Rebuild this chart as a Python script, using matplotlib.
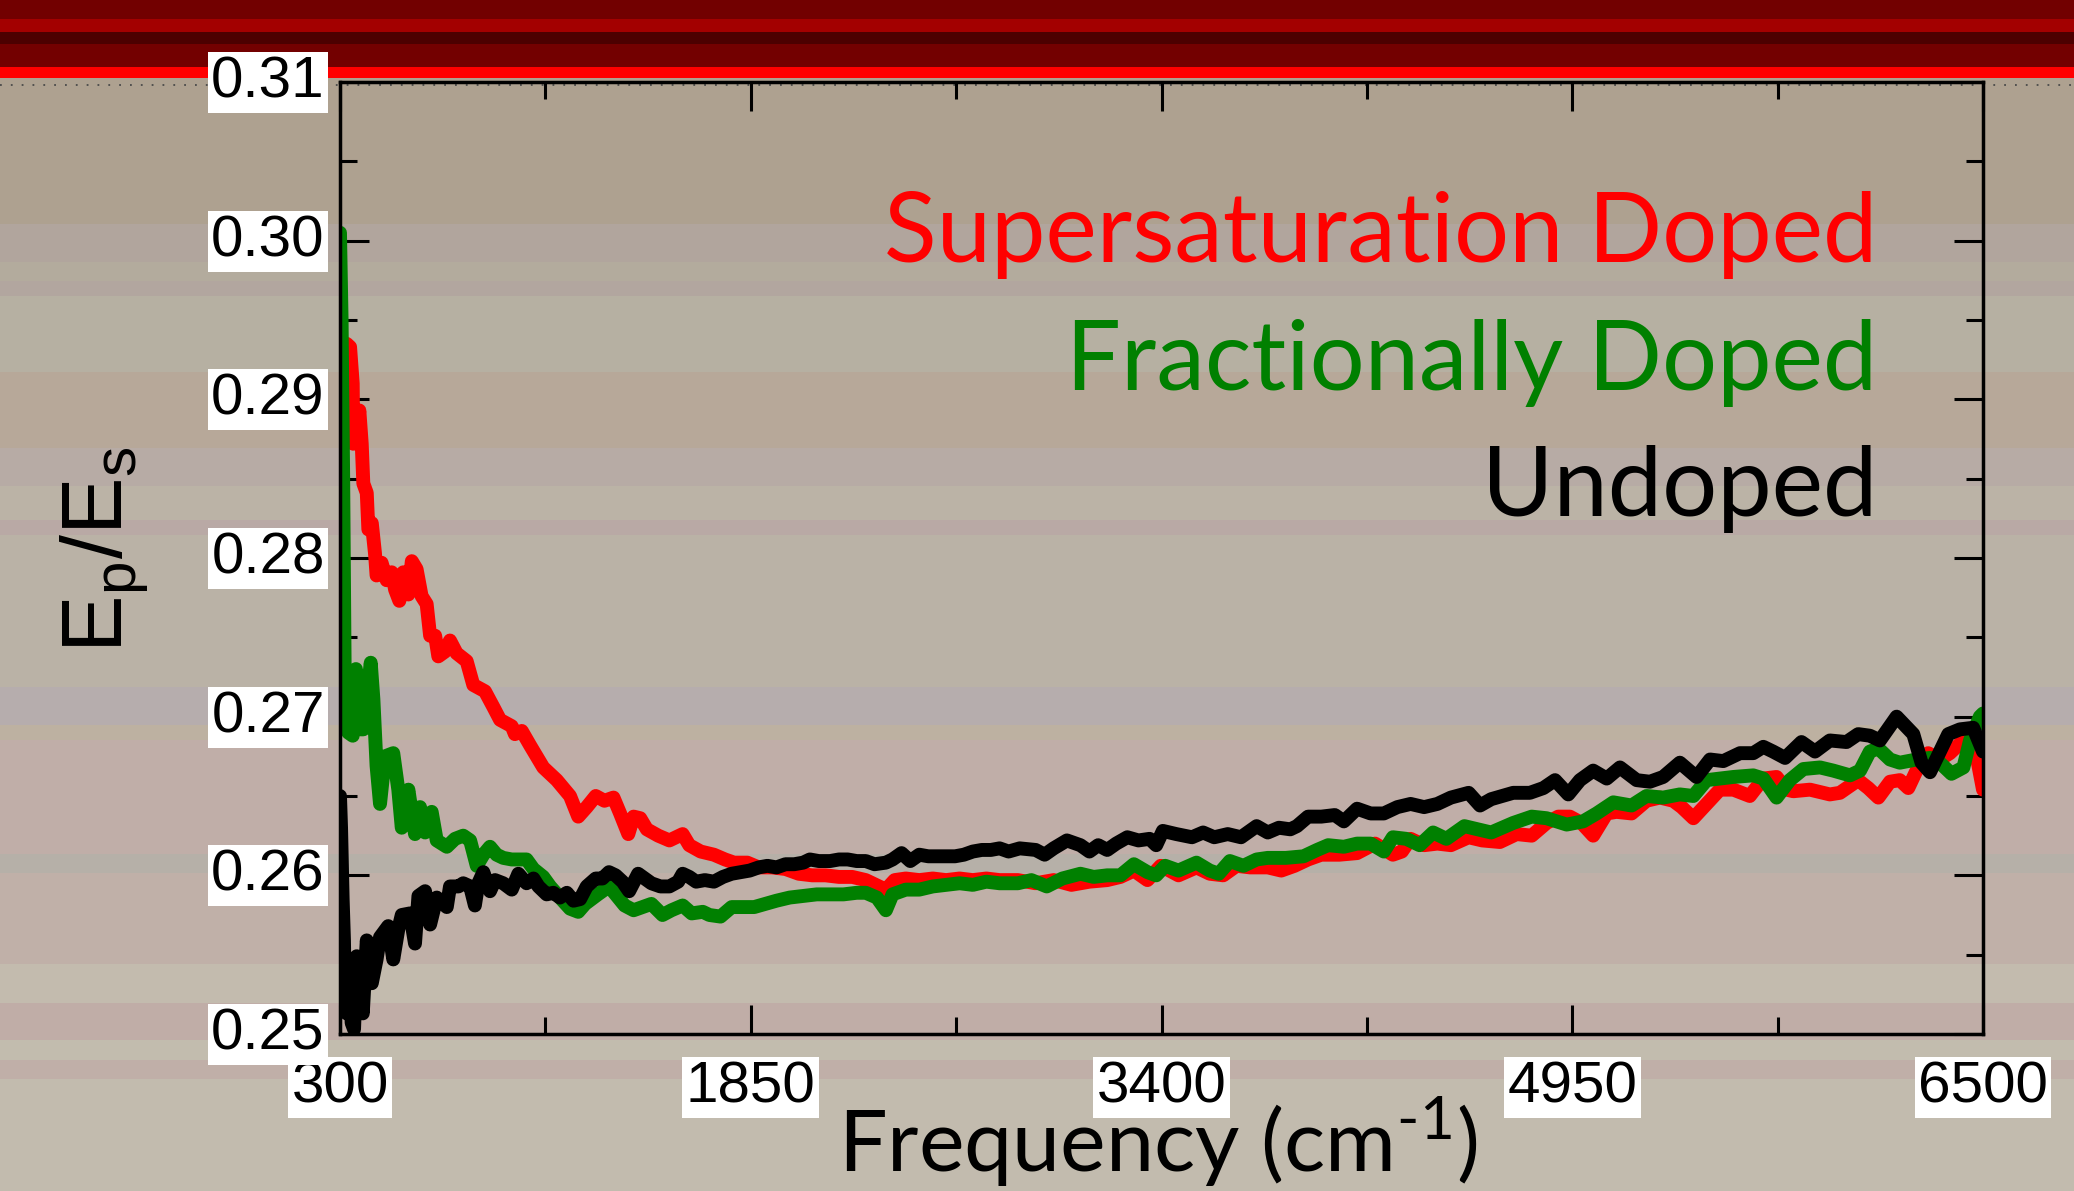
import numpy as np
import matplotlib
matplotlib.use("Agg")
import matplotlib.pyplot as plt
from matplotlib.patches import Rectangle
from matplotlib.lines import Line2D
from matplotlib.transforms import ScaledTranslation

# E_p/E_s vs frequency (cm^-1)
super_doped = [
    (325, 0.2935), (338, 0.2933), (348, 0.2910), (350, 0.2872), (363, 0.2879), (373, 0.2893),
    (382, 0.2872), (388, 0.2847), (401, 0.2841), (407, 0.2818), (420, 0.2822), (432, 0.2803),
    (438, 0.2789), (457, 0.2797), (476, 0.2786), (495, 0.2791), (508, 0.2780), (524, 0.2773),
    (539, 0.2791), (558, 0.2777), (571, 0.2798), (589, 0.2793), (608, 0.2776), (627, 0.2771),
    (640, 0.2751), (659, 0.2751), (671, 0.2738), (696, 0.2741), (715, 0.2748), (740, 0.2740),
    (778, 0.2735), (803, 0.2720), (847, 0.2716), (879, 0.2706), (904, 0.2698), (948, 0.2694),
    (960, 0.2689), (986, 0.2691), (1017, 0.2682), (1067, 0.2668), (1118, 0.2660), (1168, 0.2650),
    (1199, 0.2637), (1231, 0.2643), (1265, 0.2650), (1298, 0.2647), (1332, 0.2649), (1357, 0.2639),
    (1388, 0.2626), (1408, 0.2637), (1433, 0.2636), (1458, 0.2629), (1501, 0.2625), (1543, 0.2622),
    (1593, 0.2626), (1618, 0.2619), (1661, 0.2615), (1711, 0.2613), (1753, 0.2610), (1787, 0.2608),
    (1837, 0.2608), (1880, 0.2605), (1930, 0.2605), (1981, 0.2604), (2031, 0.2601), (2082, 0.2600),
    (2132, 0.2600), (2183, 0.2599), (2233, 0.2599), (2284, 0.2597), (2334, 0.2593), (2360, 0.2591),
    (2393, 0.2597), (2435, 0.2598), (2486, 0.2597), (2537, 0.2598), (2587, 0.2597), (2638, 0.2598),
    (2688, 0.2597), (2739, 0.2598), (2789, 0.2597), (2858, 0.2597), (2925, 0.2595), (2993, 0.2597),
    (3060, 0.2594), (3128, 0.2596), (3195, 0.2597), (3245, 0.2599), (3296, 0.2603), (3347, 0.2597),
    (3397, 0.2606), (3464, 0.2600), (3532, 0.2605), (3582, 0.2601), (3633, 0.2600), (3683, 0.2606),
    (3734, 0.2605), (3801, 0.2605), (3852, 0.2603), (3902, 0.2606), (3953, 0.2610), (4003, 0.2613),
    (4071, 0.2613), (4138, 0.2614), (4206, 0.2620), (4273, 0.2613), (4307, 0.2615), (4340, 0.2623),
    (4391, 0.2619), (4441, 0.2620), (4492, 0.2619), (4559, 0.2624), (4610, 0.2622), (4677, 0.2621),
    (4740, 0.2626), (4797, 0.2625), (4853, 0.2633), (4897, 0.2637), (4941, 0.2637), (4985, 0.2633),
    (5029, 0.2625), (5080, 0.2639), (5117, 0.2640), (5174, 0.2639), (5230, 0.2647), (5281, 0.2649),
    (5331, 0.2647), (5363, 0.2643), (5407, 0.2636), (5457, 0.2645), (5507, 0.2654), (5558, 0.2654),
    (5620, 0.2650), (5671, 0.2661), (5721, 0.2662), (5759, 0.2654), (5784, 0.2653), (5847, 0.2654),
    (5922, 0.2651), (5960, 0.2652), (6029, 0.2660), (6067, 0.2655), (6105, 0.2649), (6149, 0.2659),
    (6186, 0.2660), (6218, 0.2655), (6249, 0.2666), (6293, 0.2677), (6337, 0.2673), (6375, 0.2677),
    (6413, 0.2683), (6451, 0.2687), (6476, 0.2675), (6500, 0.2654),
]

frac_doped = [
    (300, 0.3005), (306, 0.2950), (312, 0.2850), (316, 0.2760), (319, 0.2700), (331, 0.2690),
    (348, 0.2688), (360, 0.2730), (369, 0.2705), (378, 0.2692), (388, 0.2692), (401, 0.2711),
    (416, 0.2734), (426, 0.2711), (438, 0.2669), (451, 0.2645), (470, 0.2675), (501, 0.2677),
    (520, 0.2654), (533, 0.2630), (558, 0.2654), (583, 0.2626), (602, 0.2643), (621, 0.2627),
    (646, 0.2640), (665, 0.2622), (703, 0.2618), (734, 0.2623), (765, 0.2625), (791, 0.2622),
    (816, 0.2606), (841, 0.2613), (866, 0.2618), (891, 0.2613), (916, 0.2611), (948, 0.2610),
    (979, 0.2610), (1004, 0.2610), (1030, 0.2604), (1067, 0.2599), (1093, 0.2593), (1130, 0.2586),
    (1168, 0.2579), (1199, 0.2577), (1225, 0.2582), (1273, 0.2588), (1315, 0.2593), (1340, 0.2588),
    (1374, 0.2581), (1408, 0.2578), (1442, 0.2580), (1475, 0.2582), (1517, 0.2575), (1551, 0.2578),
    (1593, 0.2581), (1627, 0.2576), (1669, 0.2577), (1694, 0.2575), (1736, 0.2574), (1778, 0.2580),
    (1821, 0.2580), (1863, 0.2580), (1905, 0.2582), (1947, 0.2584), (1997, 0.2586), (2048, 0.2587),
    (2099, 0.2588), (2149, 0.2588), (2200, 0.2588), (2250, 0.2589), (2284, 0.2589), (2326, 0.2586),
    (2360, 0.2578), (2385, 0.2588), (2435, 0.2591), (2486, 0.2591), (2537, 0.2593), (2587, 0.2594),
    (2638, 0.2595), (2688, 0.2594), (2739, 0.2596), (2789, 0.2595), (2858, 0.2595), (2909, 0.2597),
    (2967, 0.2593), (3026, 0.2598), (3094, 0.2601), (3144, 0.2599), (3195, 0.2600), (3245, 0.2600),
    (3296, 0.2607), (3347, 0.2602), (3380, 0.2600), (3414, 0.2606), (3464, 0.2603), (3532, 0.2608),
    (3582, 0.2603), (3616, 0.2601), (3658, 0.2609), (3709, 0.2606), (3759, 0.2610), (3801, 0.2611),
    (3869, 0.2611), (3936, 0.2612), (3987, 0.2616), (4029, 0.2619), (4088, 0.2618), (4138, 0.2620),
    (4189, 0.2620), (4239, 0.2615), (4273, 0.2624), (4324, 0.2623), (4374, 0.2619), (4425, 0.2627),
    (4475, 0.2623), (4543, 0.2631), (4593, 0.2629), (4644, 0.2627), (4727, 0.2633), (4797, 0.2637),
    (4853, 0.2636), (4929, 0.2632), (4991, 0.2634), (5042, 0.2639), (5105, 0.2646), (5174, 0.2644),
    (5230, 0.2650), (5293, 0.2649), (5356, 0.2651), (5407, 0.2650), (5457, 0.2660), (5507, 0.2661),
    (5558, 0.2662), (5633, 0.2663), (5671, 0.2661), (5721, 0.2649), (5771, 0.2660), (5822, 0.2667),
    (5885, 0.2668), (5935, 0.2666), (5998, 0.2663), (6036, 0.2666), (6073, 0.2678), (6105, 0.2680),
    (6149, 0.2673), (6186, 0.2671), (6249, 0.2673), (6300, 0.2674), (6337, 0.2671), (6381, 0.2664),
    (6426, 0.2668), (6451, 0.2685), (6488, 0.2700), (6500, 0.2702),
]

undoped = [
    (300, 0.2650), (304, 0.2630), (310, 0.2585), (315, 0.2559), (319, 0.2517), (325, 0.2513),
    (335, 0.2547), (344, 0.2507), (353, 0.2503), (363, 0.2549), (376, 0.2547), (386, 0.2513),
    (401, 0.2559), (420, 0.2532), (438, 0.2547), (451, 0.2561), (482, 0.2568), (501, 0.2547),
    (520, 0.2566), (533, 0.2575), (564, 0.2576), (583, 0.2557), (596, 0.2587), (621, 0.2590),
    (640, 0.2569), (665, 0.2586), (703, 0.2580), (715, 0.2593), (747, 0.2593), (765, 0.2595),
    (791, 0.2593), (809, 0.2581), (822, 0.2595), (841, 0.2602), (866, 0.2590), (885, 0.2597),
    (916, 0.2595), (948, 0.2591), (973, 0.2601), (1004, 0.2595), (1030, 0.2598), (1049, 0.2593),
    (1080, 0.2588), (1105, 0.2589), (1130, 0.2586), (1156, 0.2589), (1181, 0.2584), (1206, 0.2585),
    (1231, 0.2593), (1265, 0.2598), (1290, 0.2598), (1315, 0.2602), (1340, 0.2600), (1366, 0.2596),
    (1391, 0.2590), (1425, 0.2601), (1450, 0.2598), (1475, 0.2595), (1509, 0.2593), (1543, 0.2593),
    (1576, 0.2596), (1593, 0.2601), (1618, 0.2599), (1644, 0.2596), (1677, 0.2597), (1711, 0.2596),
    (1745, 0.2599), (1778, 0.2601), (1812, 0.2602), (1846, 0.2603), (1880, 0.2605), (1913, 0.2606),
    (1947, 0.2605), (1981, 0.2607), (2014, 0.2607), (2048, 0.2608), (2073, 0.2610), (2107, 0.2609),
    (2149, 0.2609), (2183, 0.2610), (2216, 0.2610), (2250, 0.2609), (2284, 0.2609), (2317, 0.2607),
    (2360, 0.2608), (2385, 0.2610), (2419, 0.2614), (2452, 0.2609), (2486, 0.2613), (2520, 0.2612),
    (2570, 0.2612), (2621, 0.2612), (2654, 0.2613), (2688, 0.2615), (2722, 0.2616), (2756, 0.2616),
    (2789, 0.2617), (2823, 0.2615), (2865, 0.2617), (2925, 0.2616), (2959, 0.2613), (2993, 0.2617),
    (3043, 0.2622), (3094, 0.2619), (3128, 0.2615), (3161, 0.2619), (3195, 0.2616), (3229, 0.2620),
    (3271, 0.2624), (3313, 0.2622), (3355, 0.2623), (3380, 0.2619), (3405, 0.2628), (3456, 0.2626),
    (3515, 0.2624), (3557, 0.2627), (3599, 0.2624), (3650, 0.2626), (3700, 0.2624), (3759, 0.2631),
    (3801, 0.2627), (3843, 0.2630), (3886, 0.2629), (3911, 0.2631), (3953, 0.2637), (4003, 0.2637),
    (4054, 0.2638), (4088, 0.2634), (4138, 0.2642), (4189, 0.2639), (4239, 0.2639), (4290, 0.2643),
    (4340, 0.2645), (4391, 0.2643), (4441, 0.2645), (4492, 0.2649), (4559, 0.2652), (4602, 0.2644),
    (4644, 0.2648), (4727, 0.2652), (4790, 0.2652), (4841, 0.2655), (4885, 0.2660), (4935, 0.2651),
    (4979, 0.2660), (5029, 0.2666), (5080, 0.2661), (5130, 0.2668), (5193, 0.2660), (5243, 0.2659),
    (5293, 0.2662), (5356, 0.2671), (5419, 0.2662), (5470, 0.2673), (5520, 0.2672), (5583, 0.2677),
    (5633, 0.2677), (5671, 0.2681), (5708, 0.2678), (5753, 0.2674), (5815, 0.2684), (5866, 0.2678),
    (5922, 0.2685), (5985, 0.2684), (6029, 0.2689), (6073, 0.2688), (6111, 0.2685), (6174, 0.2700),
    (6237, 0.2689), (6268, 0.2671), (6300, 0.2665), (6369, 0.2689), (6413, 0.2692), (6463, 0.2693),
    (6500, 0.2678),
]

series_names = ["Supersaturation Doped", "Fractionally Doped", "Undoped"]
series_colors = ["#ff0000", "#008000", "#000000"]
x_ticks = [300, 1850, 3400, 4950, 6500]
y_ticks = [0.25, 0.26, 0.27, 0.28, 0.29, 0.30, 0.31]

W, H = 2074, 1191

# slide background: red header band + horizontal stripes (pixel rows, top down)
header_rows = [0, 19, 32, 44, 67, 78]
header_colors = ["#720000", "#a30000", "#4c0000", "#730000", "#ff0000"]
stripe_rows = [78, 224, 262, 281, 296, 372, 448, 486, 520, 535, 687, 725, 740,
               854, 873, 964, 1003, 1040, 1060, 1079, 1191]
stripe_colors = ["#aea190", "#b1a59d", "#b3ab9d", "#b2a69f", "#b6b0a2", "#b7a899",
                 "#b7aba5", "#bbb3a6", "#b9a9a5", "#bab2a6", "#b6adad", "#bdb1a1",
                 "#c0aea8", "#b6b0a8", "#c0b0a8", "#c3bbae", "#c0ada7", "#c2bcae",
                 "#c0afa8", "#c2bbae"]

plt.rcParams["mathtext.fontset"] = "custom"
plt.rcParams["mathtext.rm"] = "Lato"


def add_bands(fig, rows, colors):
    for top, bot, c in zip(rows[:-1], rows[1:], colors):
        fig.patches.append(Rectangle((0, 1 - bot / H), 1, (bot - top) / H,
                                     transform=fig.transFigure, facecolor=c,
                                     edgecolor="none", zorder=-5))


fig = plt.figure(figsize=(W / 100, H / 100), dpi=100)
add_bands(fig, stripe_rows, stripe_colors)
add_bands(fig, header_rows, header_colors)
fig.lines.append(Line2D([0, 1], [1 - 85 / H, 1 - 85 / H], transform=fig.transFigure,
                        color="#4a4a4a", lw=1.3, linestyle=(0, (1, 5)), zorder=-4))

ax = fig.add_axes([340 / W, 1 - 1034 / H, 1643 / W, 952 / H])
ax.patch.set_alpha(0)

for data, color in zip([super_doped, frac_doped, undoped], series_colors):
    arr = np.array(data)
    ax.plot(arr[:, 0], arr[:, 1], color=color, lw=10,
            solid_joinstyle="round", solid_capstyle="round")

ax.set_xlim(300, 6500)
ax.set_ylim(0.25, 0.31)
ax.set_xticks(x_ticks)
ax.set_xticklabels([str(t) for t in x_ticks])
ax.set_xticks([1075, 2625, 4175, 5725], minor=True)
ax.set_yticks(y_ticks)
ax.set_yticklabels(["%.2f" % t for t in y_ticks])
ax.set_yticks(np.arange(0.255, 0.31, 0.01), minor=True)

for s in ax.spines.values():
    s.set_linewidth(2.5)
ax.tick_params(which="both", direction="in", top=True, right=True, width=2.2)
ax.tick_params(which="major", length=21)
ax.tick_params(which="minor", length=12)
ax.tick_params(axis="x", pad=19)
ax.tick_params(axis="y", pad=11)

for lbl in ax.get_xticklabels() + ax.get_yticklabels():
    lbl.set_family("Liberation Sans")
    lbl.set_fontsize(42)
    lbl.set_bbox(dict(facecolor="white", edgecolor="none", boxstyle="square,pad=0.06"))
# y labels sit a touch above their ticks in the original
nudge = ScaledTranslation(0, 4 / 72, fig.dpi_scale_trans)
for lbl in ax.get_yticklabels():
    lbl.set_transform(lbl.get_transform() + nudge)

fig.text(104 / W, 1 - 550 / H, r"E$_\mathregular{p}$/E$_\mathregular{s}$",
         rotation=90, ha="center", va="center", fontsize=62, family="Liberation Sans")
fig.text(1158 / W, 1 - 1173 / H, r"Frequency (cm$^{\text{-}1}$)",
         ha="center", va="baseline", fontsize=62, family=["Lato", "DejaVu Sans"])

for name, color, base in zip(series_names, series_colors, [262, 390, 516]):
    fig.text(1877 / W, 1 - base / H, name, color=color, ha="right", va="baseline",
             fontsize=70, family=["Lato", "DejaVu Sans"])

fig.savefig("out.png", dpi=100)
